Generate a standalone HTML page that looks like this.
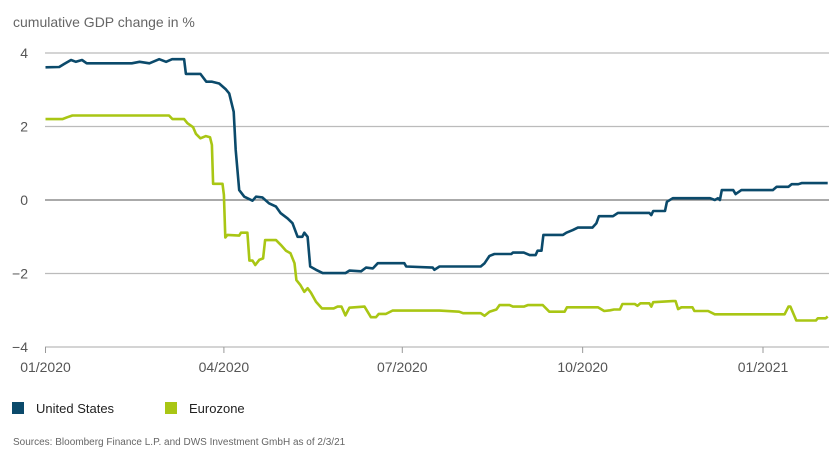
<!DOCTYPE html>
<html><head><meta charset="utf-8"><style>
body{margin:0;background:#fff;font-family:"Liberation Sans",sans-serif;}
svg text{font-family:"Liberation Sans",sans-serif;}
</style></head><body>
<svg id="chart" width="838" height="457" viewBox="0 0 838 457">
<text x="13" y="27" font-size="14" fill="#666">cumulative GDP change in %</text>
<g id="grid"></g><g id="lines"></g>
<g>
<rect x="12" y="402" width="12" height="12" fill="#0b4a6b"/>
<text x="36" y="413" font-size="13" fill="#222">United States</text>
<rect x="165" y="402" width="12" height="12" fill="#a9c614"/>
<text x="189" y="413" font-size="13" fill="#222">Eurozone</text>
</g>
<text x="13" y="445" font-size="10" fill="#666">Sources: Bloomberg Finance L.P. and DWS Investment GmbH as of 2/3/21</text>
</svg>
<script>
const yTicks=[4,2,0,-2,-4];
const yTickLabels=["4","2","0","\u22122","\u22124"];
const xTickDays=[0,91,182,274,366];
const xTickLabels=["01/2020","04/2020","07/2020","10/2020","01/2021"];
const usDays=[0,7,9.5,13,15.5,18.6,21,44,48,53,58,61.5,64.6,70.7,71.6,79,82,85,88.6,92,93.7,96,97,98.8,101.4,105.6,107.4,110.6,114,117.6,120,123.5,126,128.6,131,132,133.7,135,138,141.4,153,155,161,163.5,167,169.5,183,184,197.5,198.4,201,222,224,226.5,229,237.6,238.4,244,247,250,251,253,254,264,265.7,269,271.6,279,281,282.3,289.5,292,308,309,310,316,317,320,339,341.4,343,344,345,350.8,352,355,371,373,379,380.6,384,385.7,399];
const usValues=[3.61,3.62,3.70,3.81,3.76,3.81,3.72,3.72,3.76,3.72,3.83,3.76,3.83,3.83,3.43,3.43,3.22,3.22,3.17,3.01,2.90,2.40,1.36,0.27,0.09,-0.02,0.09,0.07,-0.09,-0.18,-0.36,-0.50,-0.63,-1.0,-1.0,-0.89,-1.0,-1.81,-1.90,-1.99,-1.99,-1.92,-1.94,-1.84,-1.86,-1.72,-1.72,-1.81,-1.84,-1.90,-1.81,-1.81,-1.72,-1.52,-1.47,-1.47,-1.43,-1.43,-1.50,-1.50,-1.38,-1.38,-0.95,-0.95,-0.89,-0.82,-0.75,-0.75,-0.63,-0.44,-0.44,-0.35,-0.35,-0.41,-0.30,-0.30,-0.05,0.05,0.05,0.0,0.05,0.0,0.27,0.27,0.16,0.27,0.27,0.36,0.36,0.43,0.43,0.46,0.46];
const ezDays=[0,8.6,11,13.7,63,64.8,70.7,72.4,75.3,76.7,79,81.8,83.9,84.9,85.5,90.3,91,91.7,92.8,98.8,99.7,103,104,105.6,107,109,111,112,117.6,120,122.7,125,127,128,130,132,133.7,135.4,138,141,147,149,151,153,155,162.7,166,168.6,170,173.7,177,201,211,213,222,224,226.5,230,231.6,236.7,238.4,244,246,253.7,257,264.8,266,281.8,285,288,290,293,294.3,300.6,302,303.5,308,309,310,320,321.4,322.7,324.4,330,331,338,341.4,377,379,380,383,393,394,398,399];
const ezValues=[2.20,2.20,2.25,2.30,2.30,2.20,2.20,2.09,1.98,1.80,1.68,1.74,1.71,1.50,0.44,0.44,0.14,-1.02,-0.95,-0.97,-0.89,-0.89,-1.65,-1.65,-1.77,-1.63,-1.59,-1.09,-1.09,-1.22,-1.38,-1.45,-1.72,-2.18,-2.31,-2.50,-2.40,-2.52,-2.77,-2.95,-2.95,-2.90,-2.90,-3.14,-2.93,-2.90,-3.19,-3.19,-3.10,-3.10,-3.01,-3.01,-3.04,-3.08,-3.08,-3.15,-3.04,-2.98,-2.86,-2.86,-2.90,-2.90,-2.86,-2.86,-3.04,-3.04,-2.92,-2.92,-3.02,-3.0,-2.98,-2.98,-2.83,-2.83,-2.88,-2.81,-2.81,-2.90,-2.78,-2.75,-2.75,-2.97,-2.92,-2.92,-3.02,-3.02,-3.11,-3.11,-2.90,-2.90,-3.28,-3.28,-3.22,-3.22,-3.17];
const NS="http://www.w3.org/2000/svg";
const X0=45.5,XPD=(763-45.5)/366,Y0=200,YPU=36.75,XR=829;
const xs=d=>X0+d*XPD, ys=v=>Y0-v*YPU;
const grid=document.getElementById('grid'), lines=document.getElementById('lines');
function mk(tag,attrs,parent){const e=document.createElementNS(NS,tag);for(const k in attrs)e.setAttribute(k,attrs[k]);parent.appendChild(e);return e;}
yTicks.forEach((t,i)=>{
  const l=mk('line',{x1:45,x2:XR,y1:ys(t),y2:ys(t),stroke:t===0?'#777':'#bbb','stroke-width':1.2},grid);
  
  
  const tx=mk('text',{x:28,y:ys(t)+5,'text-anchor':'end','font-size':14,fill:'#555'},grid);
  
  
  tx.textContent=yTickLabels[i];
});
xTickDays.forEach((d,i)=>{
  const l=mk('line',{x1:xs(d),x2:xs(d),y1:ys(-4),y2:ys(-4)+6,stroke:'#999','stroke-width':1},grid);
  
  
  const tx=mk('text',{x:xs(d),y:372,'text-anchor':'middle','font-size':14,fill:'#555'},grid);
  
  
  tx.textContent=xTickLabels[i];
});
function series(days,vals,color,name){
  const d=days.map((x,i)=>(i?'L':'M')+xs(x).toFixed(1)+','+ys(vals[i]).toFixed(1)).join('');
  const p=mk('path',{d:d,fill:'none',stroke:color,'stroke-width':2.6,'stroke-linejoin':'round'},lines);
  
  
}
series(ezDays,ezValues,'#a9c614','eurozone-line');
series(usDays,usValues,'#0b4a6b','united-states-line');
</script>
</body></html>
